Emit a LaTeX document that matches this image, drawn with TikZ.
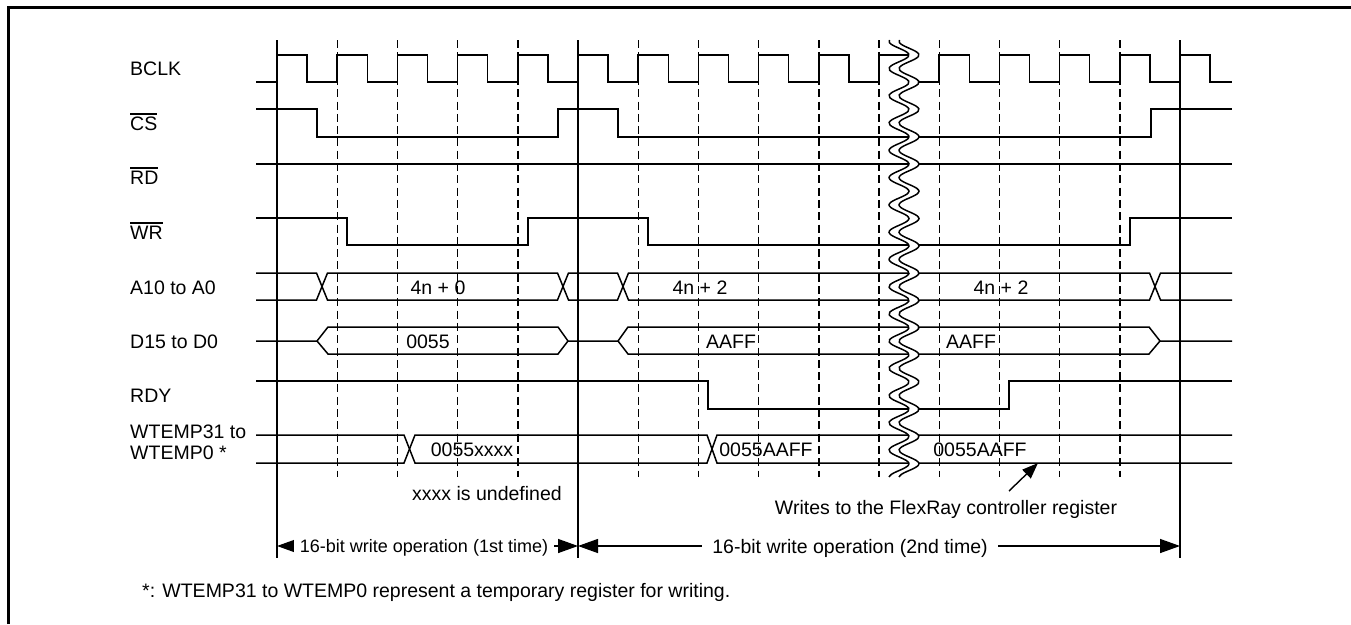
\documentclass[tikz,border=0pt]{standalone}
\usepackage{fontspec}
\setmainfont{Liberation Sans}
\usetikzlibrary{arrows.meta}
\newcommand{\barlbl}[1]{\vbox{\hrule height 1.4pt\kern 1.8pt\hbox{#1}}}
\tikzset{
  sig/.style={line width=1.5pt},
  gridline/.style={line width=1.4pt, dash pattern=on 8pt off 4.3pt},
  edge/.style={line width=1.4pt},
  lbl/.style={anchor=base west, inner sep=0pt, align=left, font=\fontsize{19.5}{21}\selectfont},
  val/.style={anchor=base, inner sep=0pt, font=\fontsize{19.5}{21}\selectfont},
  dim/.style={line width=1.4pt, {Triangle[length=20pt,width=14pt]}-{Triangle[length=20pt,width=14pt]}},
}
\begin{document}
\begin{tikzpicture}[x=1pt, y=-1pt]
  \useasboundingbox (0,0) rectangle (1351,624);
  \draw[line width=2.8pt] (8.7,624) -- (8.7,7.5) -- (1351,7.5);

  \foreach \t in {1,2,3,4,6,7,8,9,10,11,12,13,14}
    \draw[gridline] ({277+60.2*\t},40) -- ({277+60.2*\t},477);
  \foreach \t in {0,5,15}
    \draw[edge] ({277+60.2*\t},40) -- ({277+60.2*\t},558);

  \node[lbl] (lclk) at (130,75.5) {BCLK};
  \node[lbl] (lcs) at (130,130) {\barlbl{CS}};
  \node[lbl] (lrd) at (130,184) {\barlbl{RD}};
  \node[lbl] (lwr) at (130,239) {\barlbl{WR}};
  \node[lbl] (ladr) at (130,294) {A10 to A0};
  \node[lbl] (ldat) at (130,348) {D15 to D0};
  \node[lbl] (lrdy) at (130,402) {RDY};
  \node[lbl] (ltmp) at (130,459) {WTEMP31 to\\WTEMP0 *};

  \draw[sig] (256,82) -- (277,82);
  \foreach \t in {0,1,2,3,4,5,6,7,8,9,11,12,13,14}
    \draw[sig] ({277+60.2*\t},82) |- ({307.1+60.2*\t},55) |- ({337.2+60.2*\t},82);
  \draw[sig] (879,82) -- (879,55) -- (909,55);
  \draw[sig] (919,82) -- (939.2,82);
  \draw[sig] (1180,82) |- (1210.1,55) |- (1232,82);

  \draw[sig] (256,109) -| (317,137) -| (558,109) -| (618,137) -| (1151,109) -- (1232,109);
  \draw[sig] (256,164) -- (1232,164);
  \draw[sig] (256,218) -| (347,245) -| (528,218) -| (648,245) -| (1130,218) -- (1232,218);

  \draw[sig] (256,273) -- (316.5,273) -- (327.5,300) -- (557.5,300) -- (568.5,273) -- (617.5,273)
    -- (628.5,300) -- (1149.5,300) -- (1160.5,273) -- (1232,273);
  \draw[sig] (256,300) -- (316.5,300) -- (327.5,273) -- (557.5,273) -- (568.5,300) -- (617.5,300)
    -- (628.5,273) -- (1149.5,273) -- (1160.5,300) -- (1232,300);

  \draw[sig] (256,341) -- (317,341) -- (328,327) -- (558,327) -- (568,341) -- (618,341)
    -- (628,327) -- (1149,327) -- (1160,341) -- (1232,341);
  \draw[sig] (317,341) -- (328,354) -- (558,354) -- (568,341);
  \draw[sig] (618,341) -- (628,354) -- (1149,354) -- (1160,341);

  \draw[sig] (256,381) -| (708,409) -| (1009,381) -- (1232,381);

  \draw[sig] (256,435) -- (404,435) -- (415,463) -- (707,463) -- (717,435) -- (1232,435);
  \draw[sig] (256,463) -- (404,463) -- (415,435) -- (707,435) -- (717,463) -- (1232,463);

  \fill[white] plot[domain=40:477, samples=160, smooth] ({899+10*cos(13.211*(\x-55))}, \x)
    -- plot[domain=477:40, samples=160, smooth] ({909+10*cos(13.211*(\x-55))}, \x) -- cycle;
  \draw[sig] plot[domain=40:477, samples=160, smooth] ({899+10*cos(13.211*(\x-55))}, \x);
  \draw[sig] plot[domain=40:477, samples=160, smooth] ({909+10*cos(13.211*(\x-55))}, \x);

  \node[val] (a1) at (438,294) {4n + 0};
  \node[val] (a2) at (700,294) {4n + 2};
  \node[val] (a3) at (1001,294) {4n + 2};
  \node[val] (d1) at (428,348) {0055};
  \node[val] (d2) at (731,348) {AAFF};
  \node[val] (d3) at (971,348) {AAFF};
  \node[val] (w1) at (472,456) {0055xxxx};
  \node[val] (w2) at (766,456) {0055AAFF};
  \node[val] (w3) at (980,456) {0055AAFF};

  \node[val] (undef) at (487,500) {xxxx is undefined};
  \node[val] (flex) at (946,514) {Writes to the FlexRay controller register};
  \coordinate (wtail) at (1009,491);
  \coordinate (wtip) at (1038,463);
  \draw[edge, -{Triangle[length=16pt,width=12pt]}] (wtail) -- (wtip);

  \coordinate (e0) at (277,546);
  \coordinate (e5) at (578,546);
  \coordinate (e15) at (1180,546);
  \draw[dim] (e0) -- (e5);
  \draw[dim] (e5) -- (e15);
  \node[val, fill=white, inner xsep=6pt, inner ysep=2pt, font=\fontsize{18}{21}\selectfont] (op1) at (424,552.5) {16-bit write operation (1st time)};
  \node[val, fill=white, inner xsep=10pt, inner ysep=2pt] (op2) at (850,553) {16-bit write operation (2nd time)};

  \node[lbl] (note) at (142,597) {*: WTEMP31 to WTEMP0 represent a temporary register for writing.};
\end{tikzpicture}
\end{document}
